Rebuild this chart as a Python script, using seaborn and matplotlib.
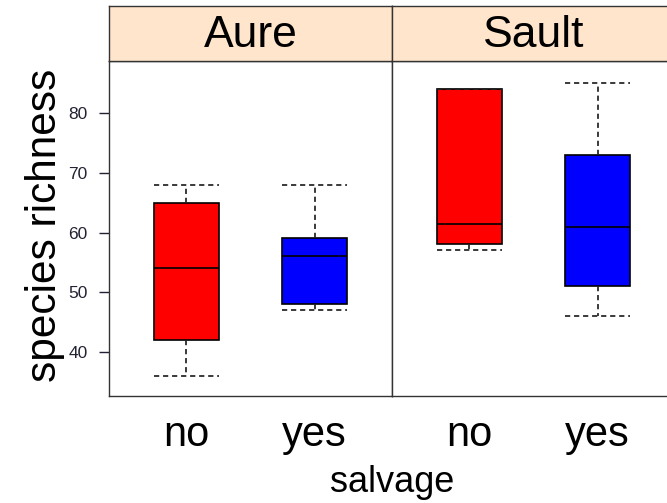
import numpy as np
import pandas as pd
import matplotlib
matplotlib.use("Agg")
import matplotlib.pyplot as plt
import seaborn as sns

# Species richness per site and salvage treatment
sites = ["Aure", "Sault"]
salvage_levels = ["no", "yes"]
aure_no = [36, 42, 54, 65, 68]
aure_yes = [47, 48, 56, 59, 68]
sault_no = [57, 58, 61.5, 84, 84]
sault_yes = [46, 51, 61, 73, 85]
y_ticks = [40, 50, 60, 70, 80]

records = []
for site, groups in zip(sites, [(aure_no, aure_yes), (sault_no, sault_yes)]):
    for level, values in zip(salvage_levels, groups):
        for v in values:
            records.append({"site": site, "salvage": level, "richness": v})
df = pd.DataFrame(records)

sns.set_style("white")
plt.rcParams["font.family"] = ["Liberation Sans", "DejaVu Sans"]

W, H = 667, 503
fig = plt.figure(figsize=(W / 100, H / 100), dpi=100)

panel_left = 109
panel_w = 283
panel_top = 61
panel_bottom = 396
strip_top = 6

palette = {"no": "#ff0000", "yes": "#0000ff"}
box_width = 0.51
dash = (0, (3.0, 2.2))
frame_col = "#333333"

axes = []
for i, site in enumerate(sites):
    x0 = (panel_left + i * panel_w) / W
    ax = fig.add_axes([x0, (H - panel_bottom) / H, panel_w / W,
                       (panel_bottom - panel_top) / H])
    sub = df[df["site"] == site]
    sns.boxplot(data=sub, x="salvage", y="richness", hue="salvage",
                order=salvage_levels, hue_order=salvage_levels,
                palette=palette, saturation=1, width=box_width, dodge=False,
                whis=(0, 100), linecolor="black", linewidth=1.2,
                legend=False, ax=ax,
                whiskerprops=dict(linestyle=dash, color="#222222",
                                  linewidth=1.25),
                capprops=dict(linestyle=dash, color="#222222",
                              linewidth=1.25),
                medianprops=dict(color="black", linewidth=1.2))
    # caps span the full box width
    for line in ax.lines:
        xd = np.asarray(line.get_xdata(), dtype=float)
        yd = np.asarray(line.get_ydata(), dtype=float)
        if len(xd) == 2 and yd[0] == yd[1] and line.get_linestyle() == "--":
            c = xd.mean()
            line.set_xdata([c - box_width / 2, c + box_width / 2])
    ax.set_xlim(-0.605, 1.605)
    ax.set_ylim(32.64, 88.7)
    ax.set_xlabel("")
    ax.set_ylabel("")
    ax.tick_params(axis="x", length=0, pad=14, labelsize=30, colors="black")
    if i == 0:
        ax.set_yticks(y_ticks)
        ax.tick_params(axis="y", direction="out", length=7.5, width=1,
                       pad=8, labelsize=12.5, colors="#222233", left=True)
    else:
        ax.tick_params(axis="y", left=False, labelleft=False)
    for s in ax.spines.values():
        s.set_color(frame_col)
        s.set_linewidth(1)
    axes.append(ax)

    sax = fig.add_axes([x0, (H - panel_top) / H, panel_w / W,
                        (panel_top - strip_top) / H])
    sax.set_facecolor("#ffe5cc")
    sax.set_xticks([])
    sax.set_yticks([])
    for s in sax.spines.values():
        s.set_color(frame_col)
        s.set_linewidth(1)
    sax.text(0.5, 0.47, site, ha="center", va="center", fontsize=32,
             color="black", transform=sax.transAxes)

fig.text(392 / W, 1 - 482 / H, "salvage", ha="center", va="center",
         fontsize=26, color="black")
fig.text(45 / W, 1 - 225 / H, "species richness", ha="center", va="center",
         rotation=90, fontsize=30.5, color="black")

fig.savefig("out.png", dpi=100)
